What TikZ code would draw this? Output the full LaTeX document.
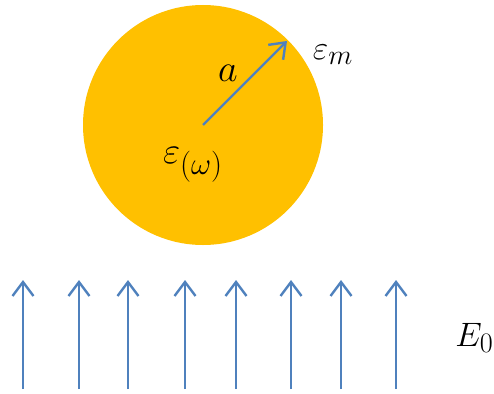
\documentclass[tikz,border=0pt]{standalone}
\usetikzlibrary{arrows.meta}
\definecolor{sun}{HTML}{FFC000}
\definecolor{fieldblue}{HTML}{4F81BD}
\begin{document}
\begin{tikzpicture}[x=1pt,y=-1pt,
  fieldarrow/.style={draw=fieldblue,line width=2.4pt,-{Straight Barb[length=14pt,width=21pt,line width=2.4pt]}},
  lbl/.style={inner sep=0pt,font=\Huge}]
\useasboundingbox (0,0) rectangle (494,393);
\node[circle,fill=sun,minimum size=240pt,inner sep=0pt] (sphere) at (203,125) {};
\coordinate (c) at (203,125);
\coordinate (r) at (287,41);
\draw[fieldarrow] (c) -- (r);
\node[lbl,scale=1.53] (a) at (228,73) {$a$};
\node[lbl,scale=1.35] (em) at (333,55) {$\varepsilon_m$};
\node[lbl,scale=1.5] (ew) at (193,165) {$\varepsilon_{(\omega)}$};
\node[lbl,anchor=west,scale=1.36] (E0) at (455,338) {$E_0$};
\foreach \i/\x in {1/23,2/79,3/128,4/185,5/236,6/291,7/341,8/396}{
  \coordinate (b\i) at (\x,389);
  \coordinate (t\i) at (\x,280);
  \draw[fieldarrow] (b\i) -- (t\i);
}
\end{tikzpicture}
\end{document}
